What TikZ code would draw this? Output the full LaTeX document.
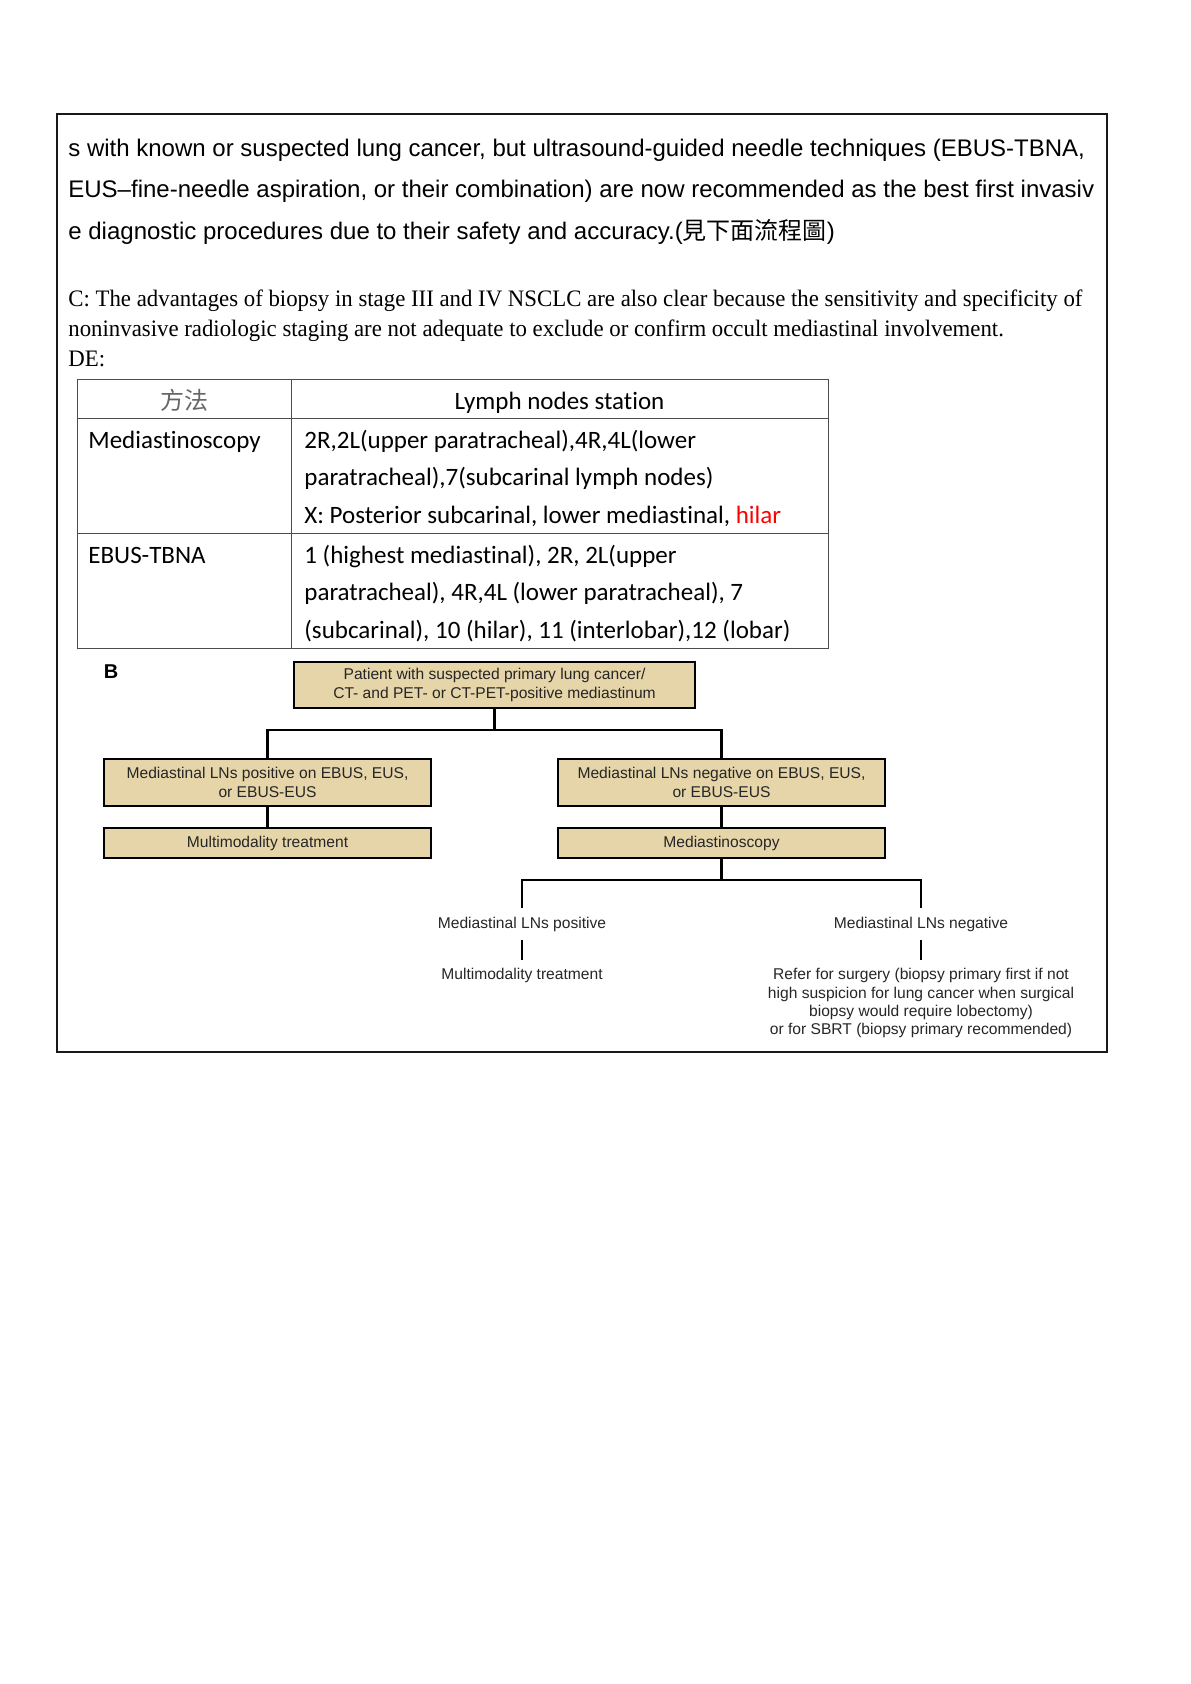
\documentclass[tikz,border=0pt]{standalone}
\usepackage{fontspec}
\usepackage{graphicx}
\setmainfont{Liberation Sans}
\newfontfamily\serifc{Liberation Serif}
\newfontfamily\calib[Ligatures=NoCommon]{Carlito}
\newfontfamily\cjk{Noto Sans CJK TC}
\definecolor{boxtan}{RGB}{230,213,168}
\definecolor{hilarred}{RGB}{255,0,0}
\newsavebox\cboxA
\newlength\cwid
\begin{document}
\sbox\cboxA{\fontsize{11.8pt}{14pt}\selectfont\serifc C: The advantages of biopsy in stage III and IV NSCLC are also clear because the sensitivity and specificity of}%
\setlength\cwid{\wd\cboxA}%
\pgfmathsetmacro\cfac{507pt/\cwid}%
\begin{tikzpicture}[x=0.5pt,y=-0.5pt,
  txt/.style={anchor=base west, inner sep=0pt, font=\fontsize{12pt}{14pt}\selectfont},
  ctxt/.style={anchor=base west, inner sep=0pt},
  tcell/.style={anchor=base west, inner sep=0pt, font={\calib\fontsize{12.5pt}{15pt}\selectfont}},
  tline/.style={line width=0.4pt, draw=black!70},
  flowbox/.style={draw=black, fill=boxtan, line width=1.4pt, align=center, inner sep=0pt,
     font=\fontsize{7.8pt}{9.3pt}\selectfont, text=black!85},
  lbl/.style={inner xsep=0pt, inner ysep=4pt, align=center,
     font=\fontsize{7.8pt}{9.2pt}\selectfont, text=black!85},
  conn/.style={line width=1.1pt, draw=black},
  conn2/.style={line width=1.3pt, draw=black}]
\useasboundingbox (0,0) rectangle (1190,1684);
% frame
\draw[line width=1pt, draw=black!90] (57,114) rectangle (1107,1052);
% paragraph B (Arial)
\node[txt] (l1) at (68,157) {s with known or suspected lung cancer, but ultrasound-guided needle techniques (EBUS-TBNA,};
\node[txt] (l2) at (68,198) {EUS--fine-needle aspiration, or their combination) are now recommended as the best first invasiv};
\node[txt] (l3) at (68,240) {e diagnostic procedures due to their safety and accuracy.({\cjk 見下面流程圖})};
% paragraph C (condensed serif)
\node[ctxt] (c1) at (68,307) {\scalebox{\cfac}[1]{\usebox\cboxA}};
\node[ctxt] (c2) at (68,337) {\scalebox{\cfac}[1]{\fontsize{11.8pt}{14pt}\selectfont\serifc noninvasive radiologic staging are not adequate to exclude or confirm occult mediastinal involvement.}};
\node[ctxt] (c3) at (68,367) {\scalebox{\cfac}[1]{\fontsize{11.8pt}{14pt}\selectfont\serifc DE:}};
% table
\draw[tline] (77,379) rectangle (828,648);
\draw[tline] (291,379) -- (291,648);
\draw[tline] (77,418) -- (828,418);
\draw[tline] (77,533) -- (828,533);
\node[anchor=base, inner sep=0pt, font={\cjk\fontsize{12pt}{14pt}\selectfont}, text=black!60] (h1) at (184,409) {方法};
\node[tcell, anchor=base] (h2) at (559.5,409) {Lymph nodes station};
\node[tcell] (r1a) at (88,448) {Mediastinoscopy};
\node[tcell] (r1b) at (304,448) {2R,2L(upper paratracheal),4R,4L(lower};
\node[tcell] (r1c) at (304,485) {paratracheal),7(subcarinal lymph nodes)};
\node[tcell] (r1d) at (304,523) {X: Posterior subcarinal, lower mediastinal, \textcolor{hilarred}{hilar}};
\node[tcell] (r2a) at (88,563) {EBUS-TBNA};
\node[tcell] (r2b) at (304,563) {1 (highest mediastinal), 2R, 2L(upper};
\node[tcell] (r2c) at (304,600) {paratracheal), 4R,4L (lower paratracheal), 7};
\node[tcell] (r2d) at (304,638) {(subcarinal), 10 (hilar), 11 (interlobar),12 (lobar)};
% flowchart
\node[font=\bfseries\fontsize{10pt}{11pt}\selectfont, inner sep=0pt] (lblB) at (111,672) {B};
\node[flowbox, minimum width=200.5pt, minimum height=23pt] (b1) at (494.5,685)
  {Patient with suspected primary lung cancer/\\CT- and PET- or CT-PET-positive mediastinum};
\node[flowbox, minimum width=163.5pt, minimum height=23.5pt] (b2) at (267.5,782.5)
  {Mediastinal LNs positive on EBUS, EUS,\\or EBUS-EUS};
\node[flowbox, minimum width=163.5pt, minimum height=15pt] (b3) at (267.5,843)
  {Multimodality treatment};
\node[flowbox, minimum width=163.5pt, minimum height=23.5pt] (b4) at (721.5,782.5)
  {Mediastinal LNs negative on EBUS, EUS,\\or EBUS-EUS};
\node[flowbox, minimum width=163.5pt, minimum height=15pt] (b5) at (721.5,843)
  {Mediastinoscopy};
\node[lbl] (lpos) at (522,924) {Mediastinal LNs positive};
\node[lbl] (lneg) at (921,924) {Mediastinal LNs negative};
\node[lbl, anchor=north] (mpos) at (522,960) {Multimodality treatment};
\node[lbl, anchor=north] (rneg) at (921,960)
  {Refer for surgery (biopsy primary first if not\\high suspicion for lung cancer when surgical\\biopsy would require lobectomy)\\or for SBRT (biopsy primary recommended)};
\coordinate (j1) at (494.5,730);
\coordinate (j2) at (721.5,880);
\draw[conn] (b1.south) -- (j1);
\draw[conn] (b2.north) |- (j1) -| (b4.north);
\draw[conn] (b2.south) -- (b3.north);
\draw[conn] (b4.south) -- (b5.north);
\draw[conn] (b5.south) -- (j2);
\draw[conn] (lpos.north) |- (j2) -| (lneg.north);
\draw[conn2] (lpos.south) -- (mpos.north);
\draw[conn2] (lneg.south) -- (rneg.north);
\end{tikzpicture}
\end{document}
